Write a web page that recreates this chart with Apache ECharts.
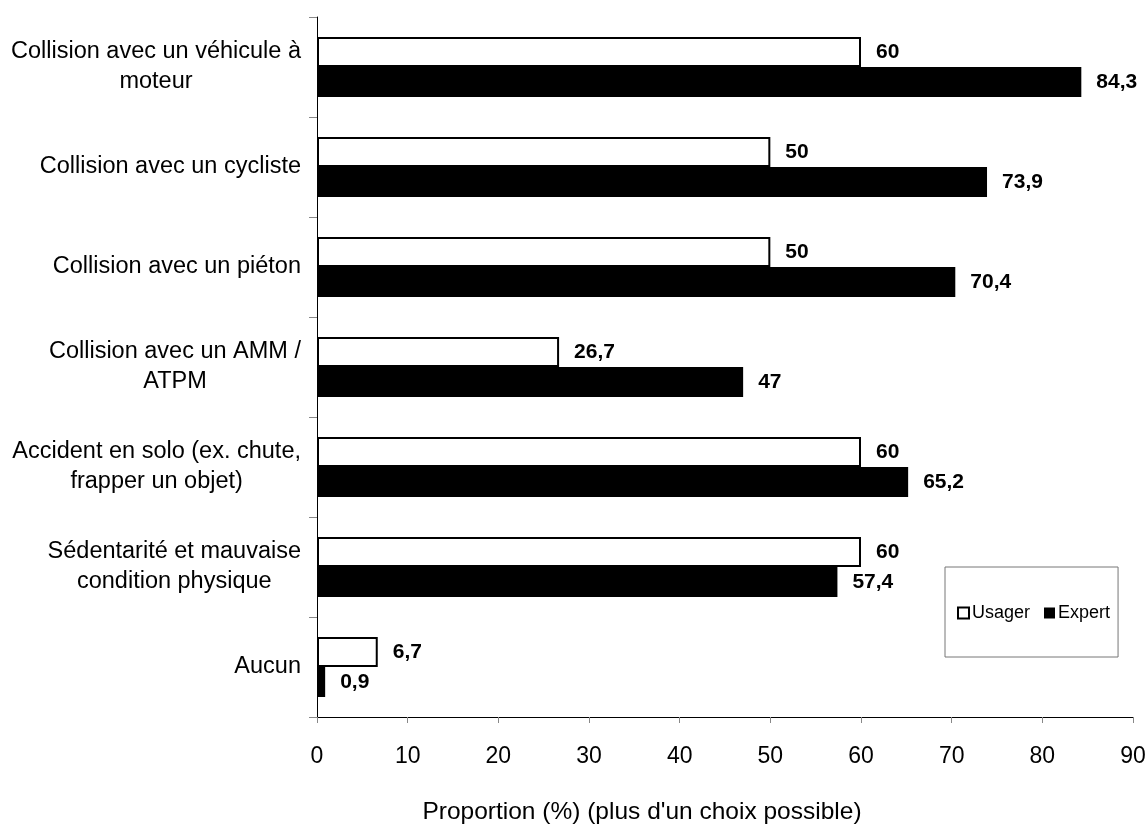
<!DOCTYPE html>
<html>
<head>
<meta charset="utf-8">
<script src="https://cdn.jsdelivr.net/npm/echarts@6/dist/echarts.min.js"></script>
<style>
  html, body { margin: 0; padding: 0; background: #fff; }
  #chart { width: 1148px; height: 825px; }
</style>
</head>
<body>
<div id="chart"></div>
<script>
// Risk categories (top to bottom)
const categories = [
  'Collision avec un véhicule à\nmoteur',
  'Collision avec un cycliste',
  'Collision avec un piéton',
  'Collision avec un AMM /\nATPM',
  'Accident en solo (ex. chute,\nfrapper un objet)',
  'Sédentarité et mauvaise\ncondition physique',
  'Aucun'
];
const usagerValues = [60, 50, 50, 26.7, 60, 60, 6.7];
const expertValues = [84.3, 73.9, 70.4, 47, 65.2, 57.4, 0.9];
const xTicks = { min: 0, max: 90, interval: 10 };
const axisTitle = 'Proportion (%) (plus d\'un choix possible)';

const FONT = 'Liberation Sans, Arial, sans-serif';
const fmtValue = p => String(p.value).replace('.', ',');

const valueLabel = {
  show: true,
  position: 'right',
  distance: 15,
  formatter: fmtValue,
  color: '#000',
  fontFamily: FONT,
  fontWeight: 'bold',
  fontSize: 21
};

const chart = echarts.init(document.getElementById('chart'), null, { renderer: 'canvas' });
chart.setOption({
  animation: false,
  backgroundColor: '#fff',
  grid: { left: 317, right: 15, top: 17, bottom: 108, containLabel: false, outerBoundsMode: 'none' },
  legend: {
    data: [
      { name: 'Usager', itemStyle: { color: '#fff', borderColor: '#000', borderWidth: 2 } },
      { name: 'Expert' }
    ],
    left: 945,
    top: 567,
    orient: 'horizontal',
    icon: 'rect',
    itemWidth: 11,
    itemHeight: 11,
    itemGap: 14,
    padding: [37, 8, 35, 12],
    borderColor: '#777',
    borderWidth: 1,
    backgroundColor: '#fff',
    textStyle: { fontFamily: FONT, fontSize: 18, color: '#000', padding: [0, 0, 0, -2] }
  },
  xAxis: {
    type: 'value',
    min: xTicks.min,
    max: xTicks.max,
    interval: xTicks.interval,
    name: axisTitle,
    nameLocation: 'middle',
    nameGap: 83,
    nameTextStyle: { fontFamily: FONT, fontSize: 24.5, color: '#000', padding: [0, 166, 0, 0] },
    axisLine: { show: true, lineStyle: { color: '#000', width: 1 } },
    axisTick: { show: true, length: 6, lineStyle: { color: '#888' } },
    axisLabel: { margin: 28, fontFamily: FONT, fontSize: 23, color: '#000' },
    splitLine: { show: false }
  },
  yAxis: {
    type: 'category',
    inverse: true,
    data: categories,
    axisLine: { show: true, lineStyle: { color: '#000', width: 1 } },
    axisTick: { show: true, length: 8, lineStyle: { color: '#888' } },
    axisLabel: {
      margin: 16,
      align: 'right',
      formatter: v => v.split('\n').map(l => '{c|' + l + '}').join('\n'),
      rich: {
        c: { align: 'center', fontFamily: FONT, fontSize: 23.5, lineHeight: 30, color: '#000' }
      }
    }
  },
  series: [
    {
      name: 'Usager',
      type: 'bar',
      data: usagerValues,
      barGap: '0%',
      barCategoryGap: '40%',
      itemStyle: { color: '#fff', borderColor: '#000', borderWidth: 2 },
      label: valueLabel
    },
    {
      name: 'Expert',
      type: 'bar',
      data: expertValues,
      barGap: '0%',
      barCategoryGap: '40%',
      itemStyle: { color: '#000' },
      label: valueLabel
    }
  ]
});
</script>
</body>
</html>
